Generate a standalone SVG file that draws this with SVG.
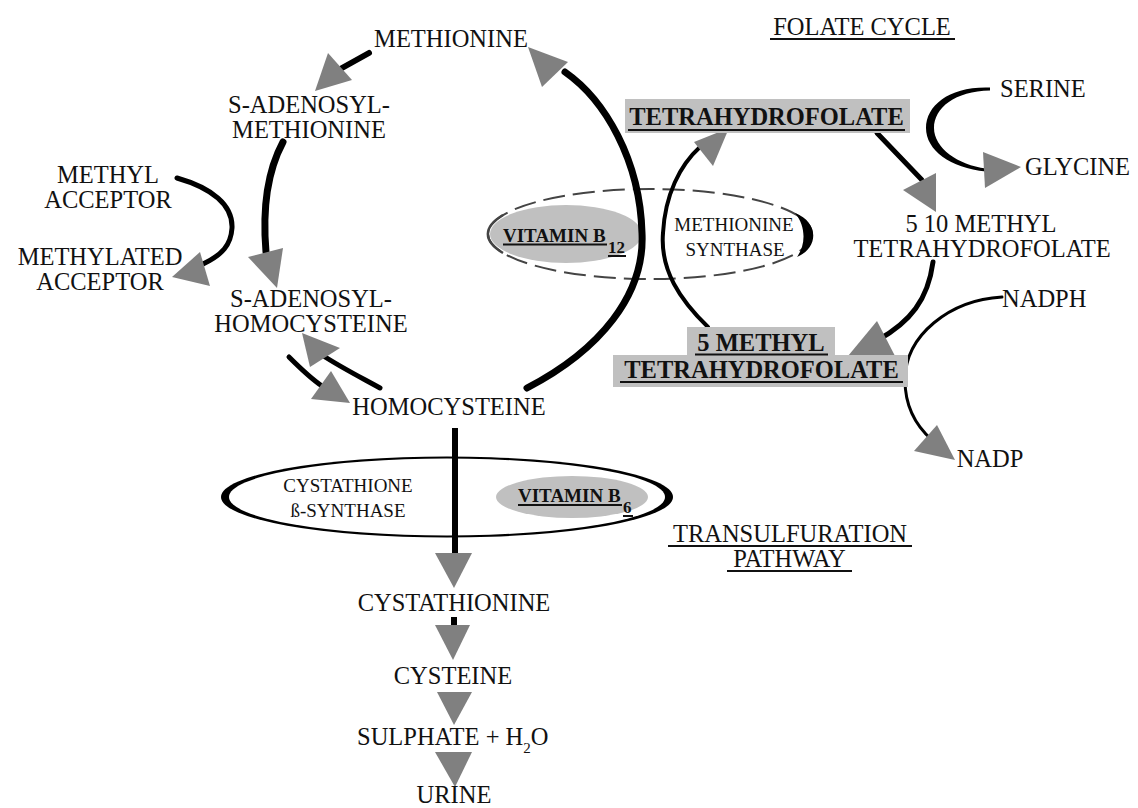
<svg xmlns="http://www.w3.org/2000/svg" width="1138" height="808" viewBox="0 0 1138 808">
<style>
.t{font-family:"Liberation Serif","Times New Roman",serif;font-size:24.5px;fill:#111}
.b{font-family:"Liberation Serif","Times New Roman",serif;font-size:24.5px;font-weight:bold;fill:#111}
.s{font-family:"Liberation Serif","Times New Roman",serif;font-size:19px;fill:#111}
.v{font-family:"Liberation Serif","Times New Roman",serif;font-size:19px;font-weight:bold;fill:#111}
.vs{font-family:"Liberation Serif","Times New Roman",serif;font-size:17px;font-weight:bold;fill:#111}
.m{text-anchor:middle}
.ln{fill:none;stroke:#000;stroke-linecap:round}
.ah{fill:#808080}
.ul{stroke:#111;stroke-width:2}
.box{fill:#c0c0c0}
</style>
<rect width="1138" height="808" fill="#fff"/>

<g id="ellipses">
  <ellipse id="methionine-synthase-ring" cx="650" cy="234" rx="162" ry="45" fill="none" stroke="#444" stroke-width="2" stroke-dasharray="22 8"/>
  <path d="M795,213 C819,222 819,248 797,257 C806,245 806,226 795,213 Z" fill="#000"/>
  <path d="M503,215 A162,45 0 0 0 503,253" fill="none" stroke="#444" stroke-width="2.5"/>
  <ellipse cx="447" cy="497" rx="226" ry="40.5" fill="#000"/>
  <ellipse cx="447" cy="497" rx="218" ry="38.5" fill="#fff"/>
</g>

<g id="vitamin-b12">
  <ellipse cx="566" cy="234" rx="76" ry="29" fill="#c0c0c0"/>
  <text class="v" x="503" y="241.5">VITAMIN B</text>
  <text class="vs" x="608" y="253">12</text>
  <line class="ul" x1="503" y1="244.5" x2="607" y2="244.5"/>
  <line class="ul" x1="608" y1="256" x2="626" y2="256"/>
</g>

<g id="vitamin-b6">
  <ellipse cx="572" cy="497" rx="76" ry="21" fill="#c0c0c0"/>
  <text class="v" x="518" y="502">VITAMIN B</text>
  <text class="vs" x="623" y="513">6</text>
  <line class="ul" x1="518" y1="505" x2="622" y2="505"/>
  <line class="ul" x1="623" y1="516" x2="633" y2="516"/>
</g>

<g id="connectors">
  <!-- methionine -> SAM -->
  <path class="ln" d="M369,53 L342,68" stroke-width="6"/>
  <polygon class="ah" points="328,53 352,80 315,91"/>
  <!-- SAM -> SAH -->
  <path class="ln" d="M283,142 C268,170 262,205 266,252" stroke-width="7"/>
  <polygon class="ah" points="248,257 283,248 277,288"/>
  <!-- methyl acceptor -> methylated acceptor -->
  <path class="ln" d="M177,178 C212,188 233,205 232,228 C231,245 222,255 203,264" stroke-width="5"/>
  <polygon class="ah" points="200,252 210,286 172,277"/>
  <!-- homocysteine -> SAH -->
  <path class="ln" d="M380,388 C362,378 342,368 322,355" stroke-width="5"/>
  <polygon class="ah" points="302,333 310,367 340,348"/>
  <!-- SAH -> homocysteine -->
  <path class="ln" d="M289,357 C300,368 310,378 322,386" stroke-width="5"/>
  <polygon class="ah" points="311,399 331,371 350,403"/>
  <!-- homocysteine -> methionine -->
  <path class="ln" d="M527,388 C600,350 645,295 642,233 C640,160 605,100 565,72" stroke-width="7"/>
  <polygon class="ah" points="528,47 542,87 568,62"/>
  <!-- 5 methyl THF -> THF -->
  <path class="ln" d="M708,327 C680,300 660,270 663,233 C665,195 680,165 700,147" stroke-width="4"/>
  <polygon class="ah" points="729,128 694,142 713,166"/>
  <!-- THF -> 5,10 methyl THF -->
  <path class="ln" d="M877,133 L922,180" stroke-width="5"/>
  <polygon class="ah" points="903,190 936,173 936,212"/>
  <!-- 5,10 methyl THF -> 5 methyl THF -->
  <path class="ln" d="M933,262 C928,300 910,322 878,340" stroke-width="5"/>
  <polygon class="ah" points="848,356 877,321 895,356"/>
  <!-- serine -> glycine -->
  <path d="M990,87.5 C950,86 926,105 926,128 C926,150 950,168 986,171.5 L986,168.5 C958,165 934,148 934,128 C934,108 955,91 990,90.5 Z" fill="#000"/>
  <polygon class="ah" points="983,152 1021,167 985,188"/>
  <!-- NADPH -> NADP -->
  <path class="ln" d="M1002,297 C950,300 905,335 905,380 C905,405 915,425 932,440" stroke-width="3"/>
  <polygon class="ah" points="914,451 937,425 955,460"/>
  <!-- transsulfuration -->
  <rect x="452" y="428" width="6" height="127" fill="#000"/>
  <polygon class="ah" points="435,553 472,553 454,588"/>
  <rect x="451" y="617" width="6" height="9" fill="#000"/>
  <polygon class="ah" points="435,625 470,625 453,660"/>
  <polygon class="ah" points="437,692 472,692 454,725"/>
  <polygon class="ah" points="435,752 472,752 455,787"/>
</g>

<g id="methionine"><text class="t m" x="451" y="47">METHIONINE</text></g>
<g id="sam"><text class="t m" x="309" y="113">S-ADENOSYL-</text><text class="t m" x="309" y="138">METHIONINE</text></g>
<g id="sah"><text class="t m" x="311" y="307">S-ADENOSYL-</text><text class="t m" x="311" y="332">HOMOCYSTEINE</text></g>
<g id="homocysteine"><text class="t m" x="449" y="415">HOMOCYSTEINE</text></g>
<g id="methyl-acceptor"><text class="t m" x="108" y="183">METHYL</text><text class="t m" x="108" y="208">ACCEPTOR</text></g>
<g id="methylated-acceptor"><text class="t m" x="100" y="265">METHYLATED</text><text class="t m" x="100" y="290">ACCEPTOR</text></g>

<g id="folate-cycle-title">
  <text class="t m" x="862" y="35">FOLATE CYCLE</text>
  <line class="ul" x1="770" y1="39" x2="955" y2="39"/>
</g>

<g id="thf">
  <rect class="box" x="625" y="99" width="285" height="34"/>
  <text class="b m" x="766.5" y="125">TETRAHYDROFOLATE</text>
  <line class="ul" x1="628" y1="130" x2="905" y2="130"/>
</g>

<g id="serine"><text class="t" x="1000" y="97">SERINE</text></g>
<g id="glycine"><text class="t" x="1025" y="175">GLYCINE</text></g>
<g id="methylene-thf"><text class="t m" x="981" y="232">5 10 METHYL</text><text class="t m" x="982" y="257">TETRAHYDROFOLATE</text></g>
<g id="methionine-synthase"><text class="s m" x="734" y="231">METHIONINE</text><text class="s m" x="735" y="256">SYNTHASE</text></g>
<g id="nadph"><text class="t" x="1002" y="307">NADPH</text></g>
<g id="nadp"><text class="t m" x="990" y="467">NADP</text></g>

<g id="methyl-thf">
  <rect class="box" x="687" y="327" width="148" height="29"/>
  <rect class="box" x="613" y="355" width="295" height="32"/>
  <text class="b m" x="761" y="351">5 METHYL</text>
  <line class="ul" x1="695" y1="354.5" x2="828" y2="354.5"/>
  <text class="b m" x="761.5" y="378">TETRAHYDROFOLATE</text>
  <line class="ul" x1="620" y1="382" x2="903" y2="382"/>
</g>

<g id="cbs"><text class="s m" x="348" y="492">CYSTATHIONE</text><text class="s m" x="348" y="517">ß-SYNTHASE</text></g>

<g id="transsulfuration-title">
  <text class="t m" x="790" y="542">TRANSULFURATION</text>
  <line class="ul" x1="668" y1="546" x2="912" y2="546"/>
  <text class="t m" x="789.5" y="567">PATHWAY</text>
  <line class="ul" x1="727" y1="571" x2="852" y2="571"/>
</g>

<g id="cystathionine"><text class="t m" x="454" y="611">CYSTATHIONINE</text></g>
<g id="cysteine"><text class="t m" x="453" y="684">CYSTEINE</text></g>
<g id="sulphate"><text class="t" x="357" y="745">SULPHATE + H<tspan font-size="15" dy="8">2</tspan><tspan dy="-8">O</tspan></text></g>
<g id="urine"><text class="t m" x="454" y="803">URINE</text></g>
</svg>
